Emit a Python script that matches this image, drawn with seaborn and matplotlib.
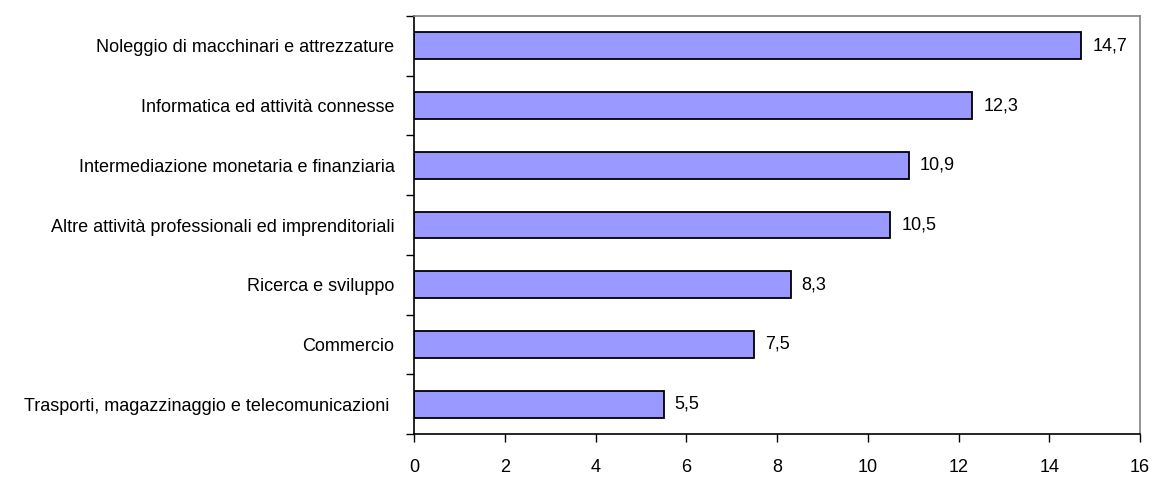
import pandas as pd
import matplotlib.pyplot as plt
import seaborn as sns
from matplotlib.ticker import MultipleLocator

# ---------------- DATA ----------------

settori = [
    "Noleggio di macchinari e attrezzature",
    "Informatica ed attività connesse",
    "Intermediazione monetaria e finanziaria",
    "Altre attività professionali ed imprenditoriali",
    "Ricerca e sviluppo",
    "Commercio",
    "Trasporti, magazzinaggio e telecomunicazioni ",
]
valori = [14.7, 12.3, 10.9, 10.5, 8.3, 7.5, 5.5]
x_ticks = [0, 2, 4, 6, 8, 10, 12, 14, 16]

data = pd.DataFrame({"Settore": settori, "Valore": valori})

# ---------------- PLOT ----------------

sns.set_style("white")
plt.rcParams["font.family"] = ["Liberation Sans", "DejaVu Sans"]
plt.rcParams["text.color"] = "black"
plt.rcParams["xtick.color"] = "black"
plt.rcParams["ytick.color"] = "black"
plt.rcParams["xtick.labelcolor"] = "black"
plt.rcParams["ytick.labelcolor"] = "black"

fig = plt.figure(figsize=(11.52, 4.79), dpi=100)
ax = fig.add_axes([0.3594, 0.0939, 0.9896 - 0.3594, 0.9666 - 0.0939])

sns.barplot(data=data, x="Valore", y="Settore", orient="h", color="#9999FF",
            saturation=1, edgecolor="black", linewidth=1.3, width=0.45, ax=ax)

labels = [f"{v:.1f}".replace(".", ",") for v in valori]
ax.bar_label(ax.containers[0], labels=labels, padding=8, fontsize=13, color="black")

ax.set_xlim(x_ticks[0], x_ticks[-1])
ax.set_xticks(x_ticks)
ax.set_ylim(len(settori) - 0.5, -0.5)
ax.set_xlabel("")
ax.set_ylabel("")

# y ticks at the category boundaries, labels in the middle
ax.yaxis.set_minor_locator(MultipleLocator(1, offset=0.5))
ax.tick_params(axis="y", which="major", length=0, pad=14, labelsize=13)
ax.tick_params(axis="y", which="minor", length=6, width=1, color="black", direction="out", left=True)
ax.tick_params(axis="x", length=6, width=1, color="black", direction="out", bottom=True,
               pad=12, labelsize=13)

for side in ["left", "bottom"]:
    ax.spines[side].set_color("black")
    ax.spines[side].set_linewidth(1.2)
for side in ["top", "right"]:
    ax.spines[side].set_color("#808080")
    ax.spines[side].set_linewidth(1.2)

plt.savefig("out.png", dpi=100)
plt.close()
